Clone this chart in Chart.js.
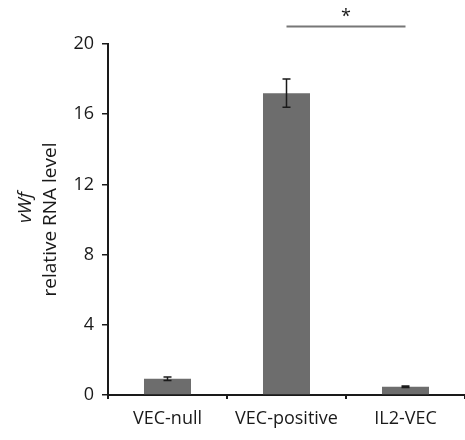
<!DOCTYPE html>
<html>
<head>
<meta charset="utf-8">
<script src="https://cdn.jsdelivr.net/npm/chart.js@4"></script>
<style>
  html, body { margin: 0; padding: 0; background: #fff; }
  #wrap { width: 465px; height: 440px; }
</style>
</head>
<body>
<div id="wrap"><canvas id="myChart" width="465" height="440"></canvas></div>
<script>
// data
const categories = ['VEC-null', 'VEC-positive', 'IL2-VEC'];
const means = [0.93, 17.2, 0.47];
const errors = [0.1, 0.8, 0.04];
const yMax = 20;
const yStep = 4;
// significance bracket: between categories 1 and 2
const sigPair = [1, 2];
const sigLevel = 21;
const sigLabel = '*';

const FONT = 'Open Sans';
const INK = '#1a1a1a';

const errorBars = {
	id: 'errorBars',
	afterDatasetsDraw(chart) {
		const ctx = chart.ctx;
		const y = chart.scales.y;
		const meta = chart.getDatasetMeta(0);
		ctx.save();
		ctx.strokeStyle = INK;
		ctx.lineWidth = 1.5;
		meta.data.forEach((bar, i) => {
			const top = y.getPixelForValue(means[i] + errors[i]);
			const bot = y.getPixelForValue(means[i] - errors[i]);
			ctx.beginPath();
			ctx.moveTo(bar.x, top);
			ctx.lineTo(bar.x, bot);
			ctx.moveTo(bar.x - 4, top);
			ctx.lineTo(bar.x + 4, top);
			ctx.moveTo(bar.x - 4, bot);
			ctx.lineTo(bar.x + 4, bot);
			ctx.stroke();
		});
		ctx.restore();
	}
};

const sigBracket = {
	id: 'sigBracket',
	afterDraw(chart) {
		const ctx = chart.ctx;
		const x = chart.scales.x;
		const y = chart.scales.y;
		const x1 = x.getPixelForValue(sigPair[0]);
		const x2 = x.getPixelForValue(sigPair[1]);
		const yy = y.getPixelForValue(sigLevel);
		ctx.save();
		ctx.strokeStyle = '#777';
		ctx.lineWidth = 2;
		ctx.beginPath();
		ctx.moveTo(x1, yy);
		ctx.lineTo(x2, yy);
		ctx.stroke();
		ctx.fillStyle = INK;
		ctx.font = '18px "' + FONT + '"';
		ctx.textAlign = 'center';
		ctx.textBaseline = 'bottom';
		ctx.fillText(sigLabel, (x1 + x2) / 2, yy - 1);
		ctx.restore();
	}
};

// italic gene name as first line of the y title
const geneLabel = {
	id: 'geneLabel',
	afterDraw(chart) {
		const ctx = chart.ctx;
		const area = chart.chartArea;
		ctx.save();
		ctx.translate(26, (area.top + area.bottom) / 2 - 12);
		ctx.rotate(-Math.PI / 2);
		ctx.fillStyle = INK;
		ctx.font = 'italic 19px "' + FONT + '"';
		ctx.textAlign = 'center';
		ctx.textBaseline = 'middle';
		ctx.fillText('vWf', 0, 0);
		ctx.restore();
	}
};

const ctx = document.getElementById('myChart');
const myChart = new Chart(ctx, {
	type: 'bar',
	data: {
		labels: categories,
		datasets: [{
			data: means,
			backgroundColor: '#6d6d6d',
			borderWidth: 0,
			categoryPercentage: 1,
			barPercentage: 0.395
		}]
	},
	options: {
		responsive: false,
		animation: false,
		layout: { padding: { top: 44, right: 0, bottom: 0, left: 0 } },
		plugins: {
			legend: { display: false },
			tooltip: { enabled: false }
		},
		scales: {
			x: {
				offset: true,
				afterFit: s => { s.height = 45; },
				border: { color: INK, width: 2 },
				grid: { offset: true, drawOnChartArea: false, tickLength: 4, color: INK, lineWidth: 2 },
				ticks: { color: INK, padding: 9, font: { family: FONT, size: 18 } }
			},
			y: {
				min: 0,
				max: yMax,
				afterFit: s => { s.width = 108; },
				border: { color: INK, width: 2 },
				grid: { drawOnChartArea: false, tickLength: 6, color: INK, lineWidth: 1.5 },
				ticks: { stepSize: yStep, color: INK, padding: 8, font: { family: FONT, size: 18 } },
				title: {
					display: true,
					text: 'relative RNA level',
					color: INK,
					padding: { top: 39, bottom: 0 },
					font: { family: FONT, size: 19 }
				}
			}
		}
	},
	plugins: [errorBars, sigBracket, geneLabel]
});
</script>
</body>
</html>
